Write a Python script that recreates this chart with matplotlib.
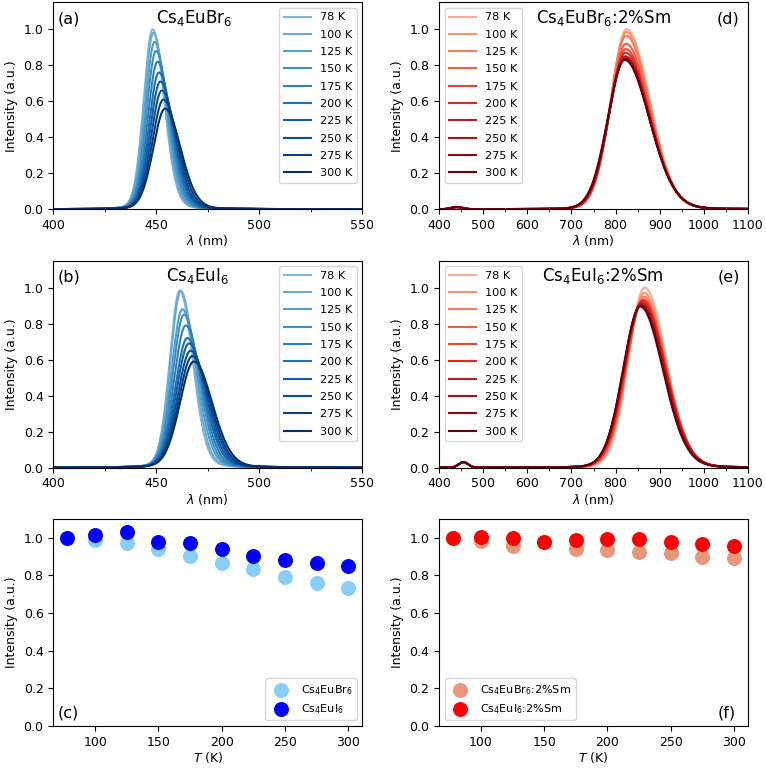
import numpy as np
import matplotlib.pyplot as plt
from matplotlib import cm
from matplotlib.ticker import MultipleLocator

temps = [78, 100, 125, 150, 175, 200, 225, 250, 275, 300]

# peak parameters (centre nm, height, FWHM nm)
br_center = [448.2, 448.6, 449.2, 449.9, 450.6, 451.3, 452.0, 452.7, 453.5, 454.3]
br_height = [1.0, 0.98, 0.93, 0.88, 0.82, 0.76, 0.71, 0.66, 0.61, 0.56]
br_fwhm = [11.8, 12.0, 12.3, 12.7, 13.0, 13.5, 13.9, 14.3, 14.9, 15.7]

i_center = [461.4, 461.9, 462.7, 463.5, 464.3, 465.1, 465.9, 466.7, 467.5, 468.3]
i_height = [0.985, 0.98, 0.88, 0.85, 0.79, 0.72, 0.69, 0.65, 0.62, 0.59]
i_fwhm = [13.2, 13.6, 14.5, 15.0, 15.6, 16.4, 16.8, 17.4, 17.9, 18.6]

brsm_center = [825, 824.5, 824, 823.5, 823, 822.5, 822, 821.5, 821, 820.5]
brsm_height = [1.0, 0.985, 0.965, 0.92, 0.89, 0.87, 0.85, 0.84, 0.835, 0.83]
brsm_fwhm = [104, 104.5, 105, 106, 107, 108, 109, 110, 110.5, 111.5]

ism_center = [866, 865, 864, 863, 862, 861, 859, 858, 857, 856]
ism_height = [1.0, 0.97, 0.95, 0.935, 0.93, 0.925, 0.915, 0.905, 0.90, 0.895]
ism_fwhm = [100, 103, 105, 105, 106, 107.5, 108, 108, 107.5, 107]

# small residual Eu2+ band in the Sm-doped samples (centre, height, fwhm)
brsm_bump = [440, 0.012, 30]
ism_bump = [455, 0.03, 25]

# integrated intensities
int_br = [1.0, 0.989, 0.97, 0.94, 0.904, 0.865, 0.832, 0.794, 0.761, 0.734]
int_i = [1.0, 1.016, 1.03, 0.975, 0.97, 0.94, 0.904, 0.883, 0.865, 0.849]
int_brsm = [1.0, 0.984, 0.959, 0.975, 0.941, 0.934, 0.927, 0.918, 0.897, 0.895]
int_ism = [1.0, 1.005, 1.0, 0.979, 0.986, 0.996, 0.991, 0.98, 0.966, 0.954]


def band(x, c, h, fwhm, asym, eta=0.0):
    # split pseudo-voigt, right half broader by asym
    hl = fwhm / (1 + asym)
    hw = np.where(x < c, hl, hl * asym)
    d = (x - c) / hw
    g = np.exp(-np.log(2) * d ** 2)
    lor = 1.0 / (1.0 + d ** 2)
    return h * ((1 - eta) * g + eta * lor)


fig, axs = plt.subplots(3, 2, figsize=(7.66, 7.71), dpi=100)
plt.subplots_adjust(left=0.0696, right=0.9765, bottom=0.0584, top=0.997,
                    wspace=0.249, hspace=0.248)

blues = cm.Blues(np.linspace(0.45, 1.0, len(temps)))
reds = cm.Reds(np.linspace(0.3, 1.0, len(temps)))

spec = [
    (axs[0, 0], br_center, br_height, br_fwhm, 1.3, 0.1, None, blues, (400, 550),
     r'Cs$_4$EuBr$_6$', 0.457, '(a)', 'upper right'),
    (axs[1, 0], i_center, i_height, i_fwhm, 1.3, 0.1, None, blues, (400, 550),
     r'Cs$_4$EuI$_6$', 0.468, '(b)', 'upper right'),
    (axs[0, 1], brsm_center, brsm_height, brsm_fwhm, 1.45, 0.05, brsm_bump, reds, (400, 1100),
     r'Cs$_4$EuBr$_6$:2%Sm', 0.531, '(d)', 'upper left'),
    (axs[1, 1], ism_center, ism_height, ism_fwhm, 1.3, 0.05, ism_bump, reds, (400, 1100),
     r'Cs$_4$EuI$_6$:2%Sm', 0.53, '(e)', 'upper left'),
]

for ax, cen, hei, fw, asym, eta, bump, cols, xl, title, tx, tag, loc in spec:
    x = np.linspace(xl[0], xl[1], 1500)
    for k, T in enumerate(temps):
        y = band(x, cen[k], hei[k], fw[k], asym, eta)
        if bump is not None:
            y = y + band(x, bump[0], bump[1], bump[2], 1.0)
        ax.plot(x, y, color=cols[k], lw=1.5, label=f'{T} K')
    ax.set_xlim(xl)
    ax.set_ylim(0, 1.15)
    ax.set_yticks(np.arange(0, 1.01, 0.2))
    if xl[1] == 550:
        ax.xaxis.set_major_locator(MultipleLocator(50))
        ax.xaxis.set_minor_locator(MultipleLocator(25))
    else:
        ax.xaxis.set_major_locator(MultipleLocator(100))
        ax.xaxis.set_minor_locator(MultipleLocator(50))
    ax.set_xlabel(r'$\lambda$ (nm)', fontsize=9, labelpad=1)
    ax.set_ylabel('Intensity (a.u.)', fontsize=9)
    ax.tick_params(labelsize=9)
    ax.text(tx, 0.9, title, transform=ax.transAxes, ha='center', va='baseline', fontsize=12)
    if loc == 'upper right':
        ax.text(0.015, 0.9, tag, transform=ax.transAxes, ha='left', va='baseline', fontsize=11.5)
    else:
        ax.text(0.973, 0.9, tag, transform=ax.transAxes, ha='right', va='baseline', fontsize=11.5)
    ax.legend(loc=loc, fontsize=8.1, handlelength=2.4, labelspacing=0.65)

# integrated intensity panels
scat = [
    (axs[2, 0], int_br, int_i, 'lightskyblue', 'blue',
     r'Cs$_4$EuBr$_6$', r'Cs$_4$EuI$_6$', '(c)', 'lower right'),
    (axs[2, 1], int_brsm, int_ism, 'darksalmon', 'red',
     r'Cs$_4$EuBr$_6$:2%Sm', r'Cs$_4$EuI$_6$:2%Sm', '(f)', 'lower left'),
]
for ax, y1, y2, c1, c2, l1, l2, tag, loc in scat:
    ax.scatter(temps, y1, s=95, color=c1, label=l1, zorder=2)
    ax.scatter(temps, y2, s=95, color=c2, label=l2, zorder=3)
    ax.set_ylim(0, 1.1)
    ax.set_yticks(np.arange(0, 1.01, 0.2))
    ax.set_xticks([100, 150, 200, 250, 300])
    ax.set_xlabel(r'$T$ (K)', fontsize=9, labelpad=1)
    ax.set_ylabel('Intensity (a.u.)', fontsize=9)
    ax.tick_params(labelsize=9)
    ax.legend(loc=loc, fontsize=8)
    if tag == '(c)':
        ax.text(0.015, 0.04, tag, transform=ax.transAxes, ha='left', va='baseline', fontsize=11.5)
    else:
        ax.text(0.96, 0.04, tag, transform=ax.transAxes, ha='right', va='baseline', fontsize=11.5)

plt.savefig('out.png', dpi=100)
